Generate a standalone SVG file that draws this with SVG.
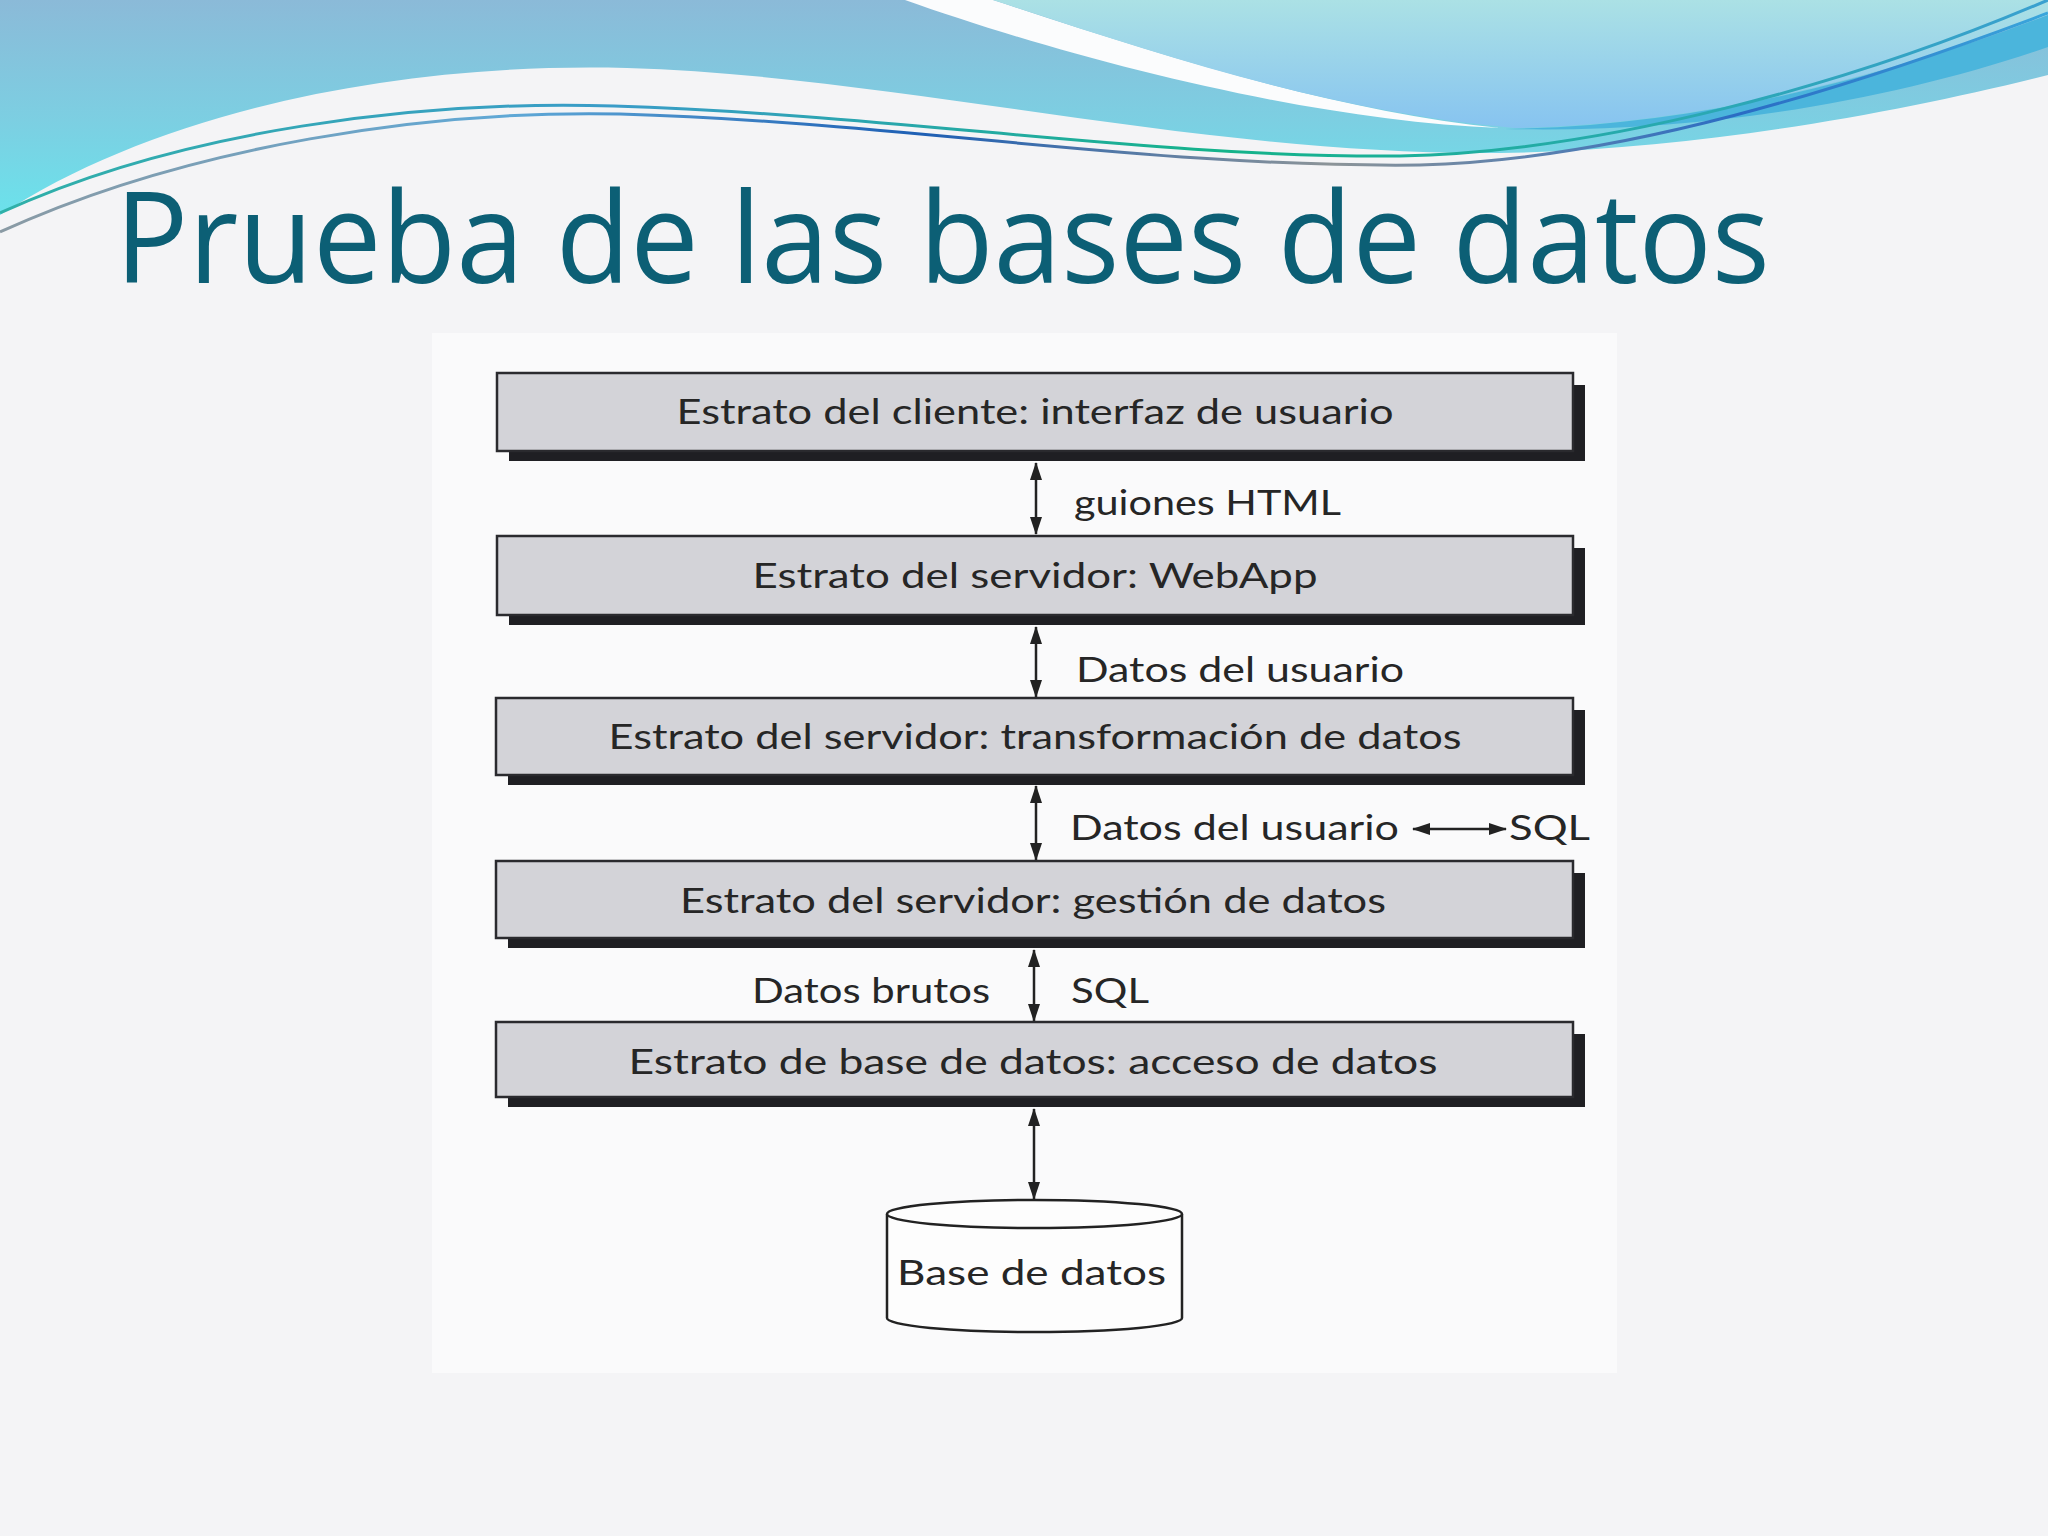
<svg xmlns="http://www.w3.org/2000/svg" width="2048" height="1536" viewBox="0 0 2048 1536">
  <defs>
    <linearGradient id="gBlue" x1="0" y1="0" x2="0" y2="220" gradientUnits="userSpaceOnUse">
      <stop offset="0" stop-color="#8bbad8"/>
      <stop offset="0.55" stop-color="#7ccfe2"/>
      <stop offset="1" stop-color="#6ae3ec"/>
    </linearGradient>
    <linearGradient id="gRight" x1="0" y1="0" x2="0" y2="130" gradientUnits="userSpaceOnUse">
      <stop offset="0" stop-color="#abe1e5"/>
      <stop offset="1" stop-color="#86c3f0"/>
    </linearGradient>
    <linearGradient id="gLine1" x1="0" y1="0" x2="2048" y2="0" gradientUnits="userSpaceOnUse">
      <stop offset="0" stop-color="#2fb0a8"/>
      <stop offset="0.3" stop-color="#3a9cc8"/>
      <stop offset="0.6" stop-color="#14b38a"/>
      <stop offset="1" stop-color="#3aa0d0"/>
    </linearGradient>
    <linearGradient id="gLine2" x1="0" y1="0" x2="2048" y2="0" gradientUnits="userSpaceOnUse">
      <stop offset="0" stop-color="#8a9aa4"/>
      <stop offset="0.25" stop-color="#5fa8d6"/>
      <stop offset="0.45" stop-color="#1e5fb4"/>
      <stop offset="0.65" stop-color="#8c9498"/>
      <stop offset="0.85" stop-color="#2a6cc4"/>
      <stop offset="1" stop-color="#3aa6dc"/>
    </linearGradient>
    <marker id="ah" viewBox="0 0 18 12" refX="17" refY="6" markerWidth="18" markerHeight="12" markerUnits="userSpaceOnUse" orient="auto-start-reverse">
      <path d="M0,0 L18,6 L0,12 Z" fill="#222"/>
    </marker>
    <style>
      .title { font-family: "Open Sans", "Noto Sans", sans-serif; font-size: 126px; fill: #0c5f75; }
      .shadow { fill: #1f1f23; }
      .box { fill: #d3d3d8; stroke: #2a2a2e; stroke-width: 2.5; }
      .bt { font-family: Lato, "Liberation Sans", sans-serif; font-size: 34px; fill: #262626; text-anchor: middle; }
      .lt { font-family: Lato, "Liberation Sans", sans-serif; font-size: 34px; fill: #262626; }
      .con { stroke: #222; stroke-width: 2.5; fill: none; marker-start: url(#ah); marker-end: url(#ah); }
      .cyl { fill: #fdfdfd; stroke: #222; stroke-width: 2.5; }
    </style>
  </defs>

  <!-- background -->
  <rect x="0" y="0" width="2048" height="1536" fill="#f4f4f6"/>
  <rect x="432" y="333" width="1185" height="1040" fill="#fafafb"/>

  <!-- header waves -->
  <g id="header">
    <path d="M0,0 H2048 V75 C1900,112 1700,150 1500,153 C1200,156 900,76 627,68 C400,62 160,110 0,215 Z" fill="url(#gBlue)"/>
    <path d="M905,0 C1060,55 1300,120 1500,128 C1330,110 1160,55 993,0 Z" fill="#fbfcfd"/>
    <path d="M993,0 C1160,55 1330,112 1515,128 C1710,125 1900,70 2048,15 V0 Z" fill="url(#gRight)"/>
    <path d="M1505,129 C1710,126 1900,72 2048,15 V47 C1900,98 1710,134 1505,129 Z" fill="#4bb5dc"/>
    <path d="M0,213 C180,130 420,100 614,106 C900,115 1150,158 1400,156 C1600,152 1850,85 2048,0" fill="none" stroke="url(#gLine1)" stroke-width="3"/>
    <path d="M0,232 C190,145 430,110 620,114 C900,122 1150,168 1420,165 C1620,160 1850,88 2048,13" fill="none" stroke="url(#gLine2)" stroke-width="3"/>
  </g>

  <text class="title" x="115" y="283" textLength="1655" lengthAdjust="spacingAndGlyphs">Prueba de las bases de datos</text>

  <!-- connectors -->
  <g id="connectors">
    <line class="con" x1="1036" y1="463" x2="1036" y2="534"/>
    <line class="con" x1="1036" y1="627" x2="1036" y2="697"/>
    <line class="con" x1="1036" y1="786" x2="1036" y2="860"/>
    <line class="con" x1="1034" y1="950" x2="1034" y2="1021"/>
    <line class="con" x1="1034" y1="1109" x2="1034" y2="1199"/>
    <line class="con" x1="1413" y1="829" x2="1506" y2="829"/>
  </g>

  <!-- labels -->
  <g id="labels">
    <text class="lt" x="1074" y="515" textLength="267" lengthAdjust="spacingAndGlyphs">guiones HTML</text>
    <text class="lt" x="1076" y="682" textLength="328" lengthAdjust="spacingAndGlyphs">Datos del usuario</text>
    <text class="lt" x="1070" y="840" textLength="329" lengthAdjust="spacingAndGlyphs">Datos del usuario</text>
    <text class="lt" x="1509" y="840" textLength="81" lengthAdjust="spacingAndGlyphs">SQL</text>
    <text class="lt" x="752" y="1003" textLength="238" lengthAdjust="spacingAndGlyphs">Datos brutos</text>
    <text class="lt" x="1071" y="1003" textLength="78" lengthAdjust="spacingAndGlyphs">SQL</text>
  </g>

  <!-- nodes -->
  <g id="node-cliente">
    <rect class="shadow" x="509" y="385" width="1076" height="76"/>
    <rect class="box" x="497" y="373" width="1076" height="78"/>
    <text class="bt" x="1035" y="424" textLength="717" lengthAdjust="spacingAndGlyphs">Estrato del cliente: interfaz de usuario</text>
  </g>
  <g id="node-webapp">
    <rect class="shadow" x="509" y="548" width="1076" height="77"/>
    <rect class="box" x="497" y="536" width="1076" height="79"/>
    <text class="bt" x="1035" y="588" textLength="565" lengthAdjust="spacingAndGlyphs">Estrato del servidor: WebApp</text>
  </g>
  <g id="node-transformacion">
    <rect class="shadow" x="508" y="710" width="1077" height="75"/>
    <rect class="box" x="496" y="698" width="1077" height="77"/>
    <text class="bt" x="1035" y="749" textLength="853" lengthAdjust="spacingAndGlyphs">Estrato del servidor: transformación de datos</text>
  </g>
  <g id="node-gestion">
    <rect class="shadow" x="508" y="873" width="1077" height="75"/>
    <rect class="box" x="496" y="861" width="1077" height="77"/>
    <text class="bt" x="1033" y="913" textLength="706" lengthAdjust="spacingAndGlyphs">Estrato del servidor: gestión de datos</text>
  </g>
  <g id="node-acceso">
    <rect class="shadow" x="508" y="1034" width="1077" height="73"/>
    <rect class="box" x="496" y="1022" width="1077" height="75"/>
    <text class="bt" x="1033" y="1074" textLength="809" lengthAdjust="spacingAndGlyphs">Estrato de base de datos: acceso de datos</text>
  </g>
  <g id="node-basedatos">
    <path class="cyl" d="M887,1214 V1318 A147.5,14 0 0 0 1182,1318 V1214"/>
    <ellipse class="cyl" cx="1034.5" cy="1214" rx="147.5" ry="14"/>
    <text class="lt" x="897" y="1285" textLength="269" lengthAdjust="spacingAndGlyphs">Base de datos</text>
  </g>
</svg>
